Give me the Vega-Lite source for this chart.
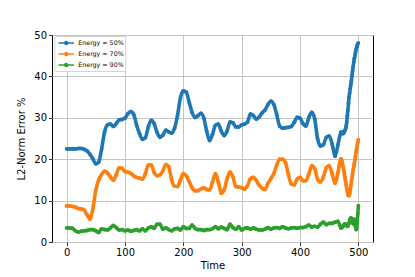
{
  "$schema": "https://vega.github.io/schema/vega-lite/v6.json",
  "width": 321,
  "height": 207,
  "autosize": {"type": "none"},
  "padding": {"left": 52, "top": 35, "right": 42, "bottom": 35},
  "background": "white",
  "config": {
    "font": "DejaVu Sans",
    "view": {"stroke": "black", "strokeWidth": 1},
    "axis": {
      "domain": false,
      "grid": true,
      "gridColor": "#c4c4c4",
      "gridWidth": 1,
      "tickColor": "black",
      "tickSize": 3.5,
      "tickWidth": 0.8,
      "labelFont": "DejaVu Sans",
      "labelFontSize": 10,
      "labelColor": "black",
      "labelPadding": 2,
      "titleFont": "DejaVu Sans",
      "titleFontSize": 10,
      "titleFontWeight": "normal",
      "titleColor": "black"
    }
  },
  "data": {
    "values": [
      {"t":0,"Energy = 50%":22.5,"Energy = 70%":8.7,"Energy = 90%":3.4},
      {"t":5,"Energy = 50%":22.5,"Energy = 70%":8.7,"Energy = 90%":3.4},
      {"t":10,"Energy = 50%":22.5,"Energy = 70%":8.6,"Energy = 90%":3.3},
      {"t":15,"Energy = 50%":22.5,"Energy = 70%":8.4,"Energy = 90%":2.7},
      {"t":20,"Energy = 50%":22.6,"Energy = 70%":8.1,"Energy = 90%":2.4},
      {"t":25,"Energy = 50%":22.6,"Energy = 70%":8.0,"Energy = 90%":2.6},
      {"t":30,"Energy = 50%":22.4,"Energy = 70%":7.7,"Energy = 90%":2.7},
      {"t":35,"Energy = 50%":22.0,"Energy = 70%":6.6,"Energy = 90%":2.8},
      {"t":40,"Energy = 50%":21.2,"Energy = 70%":5.5,"Energy = 90%":3.0},
      {"t":45,"Energy = 50%":20.1,"Energy = 70%":8.0,"Energy = 90%":3.0},
      {"t":50,"Energy = 50%":18.9,"Energy = 70%":12.5,"Energy = 90%":2.7},
      {"t":55,"Energy = 50%":19.3,"Energy = 70%":15.0,"Energy = 90%":2.3},
      {"t":60,"Energy = 50%":22.5,"Energy = 70%":16.3,"Energy = 90%":3.2},
      {"t":65,"Energy = 50%":26.5,"Energy = 70%":17.1,"Energy = 90%":3.0},
      {"t":70,"Energy = 50%":28.3,"Energy = 70%":16.7,"Energy = 90%":2.9},
      {"t":75,"Energy = 50%":28.5,"Energy = 70%":15.7,"Energy = 90%":3.4},
      {"t":80,"Energy = 50%":27.9,"Energy = 70%":14.9,"Energy = 90%":4.0},
      {"t":85,"Energy = 50%":28.6,"Energy = 70%":16.2,"Energy = 90%":3.5},
      {"t":90,"Energy = 50%":29.5,"Energy = 70%":17.9,"Energy = 90%":2.9},
      {"t":95,"Energy = 50%":29.6,"Energy = 70%":17.8,"Energy = 90%":3.0},
      {"t":100,"Energy = 50%":29.9,"Energy = 70%":17.0,"Energy = 90%":2.7},
      {"t":105,"Energy = 50%":31.0,"Energy = 70%":16.9,"Energy = 90%":2.9},
      {"t":110,"Energy = 50%":31.5,"Energy = 70%":16.6,"Energy = 90%":2.6},
      {"t":115,"Energy = 50%":30.8,"Energy = 70%":16.0,"Energy = 90%":2.8},
      {"t":120,"Energy = 50%":28.2,"Energy = 70%":15.6,"Energy = 90%":3.0},
      {"t":125,"Energy = 50%":26.2,"Energy = 70%":15.4,"Energy = 90%":2.7},
      {"t":130,"Energy = 50%":24.8,"Energy = 70%":15.2,"Energy = 90%":3.2},
      {"t":135,"Energy = 50%":25.2,"Energy = 70%":16.5,"Energy = 90%":2.7},
      {"t":140,"Energy = 50%":27.8,"Energy = 70%":18.6,"Energy = 90%":3.4},
      {"t":145,"Energy = 50%":29.4,"Energy = 70%":18.6,"Energy = 90%":3.7},
      {"t":150,"Energy = 50%":28.6,"Energy = 70%":16.8,"Energy = 90%":3.3},
      {"t":155,"Energy = 50%":26.5,"Energy = 70%":16.0,"Energy = 90%":4.3},
      {"t":160,"Energy = 50%":25.3,"Energy = 70%":16.2,"Energy = 90%":4.3},
      {"t":165,"Energy = 50%":25.8,"Energy = 70%":17.2,"Energy = 90%":3.1},
      {"t":170,"Energy = 50%":27.0,"Energy = 70%":18.7,"Energy = 90%":3.4},
      {"t":175,"Energy = 50%":26.6,"Energy = 70%":18.2,"Energy = 90%":3.0},
      {"t":180,"Energy = 50%":26.3,"Energy = 70%":15.0,"Energy = 90%":2.7},
      {"t":185,"Energy = 50%":27.5,"Energy = 70%":13.5,"Energy = 90%":3.2},
      {"t":190,"Energy = 50%":30.5,"Energy = 70%":13.4,"Energy = 90%":3.3},
      {"t":195,"Energy = 50%":34.8,"Energy = 70%":15.0,"Energy = 90%":2.9},
      {"t":200,"Energy = 50%":36.5,"Energy = 70%":16.5,"Energy = 90%":3.7},
      {"t":205,"Energy = 50%":36.2,"Energy = 70%":16.0,"Energy = 90%":3.3},
      {"t":210,"Energy = 50%":33.8,"Energy = 70%":14.6,"Energy = 90%":3.3},
      {"t":215,"Energy = 50%":31.3,"Energy = 70%":13.1,"Energy = 90%":4.1},
      {"t":220,"Energy = 50%":30.1,"Energy = 70%":12.4,"Energy = 90%":3.3},
      {"t":225,"Energy = 50%":30.5,"Energy = 70%":12.4,"Energy = 90%":3.0},
      {"t":230,"Energy = 50%":31.1,"Energy = 70%":12.8,"Energy = 90%":3.0},
      {"t":235,"Energy = 50%":30.0,"Energy = 70%":13.1,"Energy = 90%":2.8},
      {"t":240,"Energy = 50%":26.8,"Energy = 70%":12.7,"Energy = 90%":3.0},
      {"t":245,"Energy = 50%":24.5,"Energy = 70%":12.6,"Energy = 90%":3.0},
      {"t":250,"Energy = 50%":26.0,"Energy = 70%":14.5,"Energy = 90%":3.2},
      {"t":255,"Energy = 50%":28.2,"Energy = 70%":16.5,"Energy = 90%":3.7},
      {"t":260,"Energy = 50%":28.5,"Energy = 70%":14.5,"Energy = 90%":3.2},
      {"t":265,"Energy = 50%":26.8,"Energy = 70%":11.8,"Energy = 90%":3.6},
      {"t":270,"Energy = 50%":25.7,"Energy = 70%":12.6,"Energy = 90%":3.3},
      {"t":275,"Energy = 50%":26.8,"Energy = 70%":15.3,"Energy = 90%":3.0},
      {"t":280,"Energy = 50%":29.0,"Energy = 70%":16.9,"Energy = 90%":4.3},
      {"t":285,"Energy = 50%":28.8,"Energy = 70%":15.7,"Energy = 90%":3.5},
      {"t":290,"Energy = 50%":27.8,"Energy = 70%":13.4,"Energy = 90%":3.1},
      {"t":295,"Energy = 50%":27.8,"Energy = 70%":13.3,"Energy = 90%":3.7},
      {"t":300,"Energy = 50%":28.3,"Energy = 70%":13.1,"Energy = 90%":2.9},
      {"t":305,"Energy = 50%":28.5,"Energy = 70%":12.8,"Energy = 90%":3.3},
      {"t":310,"Energy = 50%":29.0,"Energy = 70%":13.6,"Energy = 90%":3.4},
      {"t":315,"Energy = 50%":30.9,"Energy = 70%":15.3,"Energy = 90%":3.1},
      {"t":320,"Energy = 50%":30.5,"Energy = 70%":15.6,"Energy = 90%":3.4},
      {"t":325,"Energy = 50%":29.7,"Energy = 70%":14.9,"Energy = 90%":3.1},
      {"t":330,"Energy = 50%":30.2,"Energy = 70%":13.7,"Energy = 90%":2.9},
      {"t":335,"Energy = 50%":31.2,"Energy = 70%":13.0,"Energy = 90%":2.9},
      {"t":340,"Energy = 50%":31.9,"Energy = 70%":12.7,"Energy = 90%":3.1},
      {"t":345,"Energy = 50%":33.2,"Energy = 70%":14.2,"Energy = 90%":3.5},
      {"t":350,"Energy = 50%":34.0,"Energy = 70%":15.3,"Energy = 90%":3.1},
      {"t":355,"Energy = 50%":33.2,"Energy = 70%":16.5,"Energy = 90%":3.4},
      {"t":360,"Energy = 50%":30.8,"Energy = 70%":18.6,"Energy = 90%":3.5},
      {"t":365,"Energy = 50%":28.0,"Energy = 70%":20.0,"Energy = 90%":3.3},
      {"t":370,"Energy = 50%":27.5,"Energy = 70%":20.0,"Energy = 90%":3.7},
      {"t":375,"Energy = 50%":27.6,"Energy = 70%":19.2,"Energy = 90%":3.4},
      {"t":380,"Energy = 50%":27.7,"Energy = 70%":16.3,"Energy = 90%":3.2},
      {"t":385,"Energy = 50%":27.9,"Energy = 70%":14.0,"Energy = 90%":3.4},
      {"t":390,"Energy = 50%":28.9,"Energy = 70%":13.8,"Energy = 90%":3.5},
      {"t":395,"Energy = 50%":30.1,"Energy = 70%":15.2,"Energy = 90%":3.3},
      {"t":400,"Energy = 50%":29.9,"Energy = 70%":15.6,"Energy = 90%":3.5},
      {"t":405,"Energy = 50%":28.6,"Energy = 70%":14.8,"Energy = 90%":3.5},
      {"t":410,"Energy = 50%":28.0,"Energy = 70%":14.8,"Energy = 90%":3.7},
      {"t":415,"Energy = 50%":30.0,"Energy = 70%":16.4,"Energy = 90%":4.1},
      {"t":420,"Energy = 50%":31.3,"Energy = 70%":18.4,"Energy = 90%":3.6},
      {"t":425,"Energy = 50%":29.8,"Energy = 70%":17.8,"Energy = 90%":3.8},
      {"t":430,"Energy = 50%":25.0,"Energy = 70%":15.2,"Energy = 90%":3.6},
      {"t":435,"Energy = 50%":23.2,"Energy = 70%":14.5,"Energy = 90%":4.3},
      {"t":440,"Energy = 50%":23.5,"Energy = 70%":15.7,"Energy = 90%":4.8},
      {"t":445,"Energy = 50%":25.3,"Energy = 70%":17.9,"Energy = 90%":4.2},
      {"t":450,"Energy = 50%":25.6,"Energy = 70%":18.4,"Energy = 90%":4.5},
      {"t":455,"Energy = 50%":23.7,"Energy = 70%":16.5,"Energy = 90%":4.5},
      {"t":460,"Energy = 50%":20.7,"Energy = 70%":14.2,"Energy = 90%":4.8},
      {"t":465,"Energy = 50%":23.5,"Energy = 70%":16.8,"Energy = 90%":5.0},
      {"t":470,"Energy = 50%":26.5,"Energy = 70%":20.1,"Energy = 90%":3.4},
      {"t":471,"Energy = 50%":26.6,"Energy = 70%":19.9,"Energy = 90%":3.4},
      {"t":472,"Energy = 50%":26.4,"Energy = 70%":19.4,"Energy = 90%":3.6},
      {"t":473,"Energy = 50%":26.2,"Energy = 70%":18.7,"Energy = 90%":3.7},
      {"t":474,"Energy = 50%":26.2,"Energy = 70%":18.0,"Energy = 90%":3.9},
      {"t":475,"Energy = 50%":26.4,"Energy = 70%":17.2,"Energy = 90%":4.1},
      {"t":476,"Energy = 50%":26.7,"Energy = 70%":16.4,"Energy = 90%":4.3},
      {"t":477,"Energy = 50%":27.0,"Energy = 70%":15.5,"Energy = 90%":4.4},
      {"t":478,"Energy = 50%":27.3,"Energy = 70%":14.7,"Energy = 90%":4.3},
      {"t":479,"Energy = 50%":28.0,"Energy = 70%":13.8,"Energy = 90%":4.1},
      {"t":480,"Energy = 50%":29.0,"Energy = 70%":13.0,"Energy = 90%":3.9},
      {"t":481,"Energy = 50%":30.4,"Energy = 70%":12.2,"Energy = 90%":3.8},
      {"t":482,"Energy = 50%":31.9,"Energy = 70%":11.5,"Energy = 90%":3.9},
      {"t":483,"Energy = 50%":33.5,"Energy = 70%":11.2,"Energy = 90%":4.2},
      {"t":484,"Energy = 50%":35.0,"Energy = 70%":11.3,"Energy = 90%":4.7},
      {"t":485,"Energy = 50%":36.0,"Energy = 70%":11.8,"Energy = 90%":5.2},
      {"t":486,"Energy = 50%":37.0,"Energy = 70%":12.7,"Energy = 90%":5.6},
      {"t":487,"Energy = 50%":38.0,"Energy = 70%":13.6,"Energy = 90%":5.8},
      {"t":488,"Energy = 50%":39.0,"Energy = 70%":14.6,"Energy = 90%":5.7},
      {"t":489,"Energy = 50%":40.2,"Energy = 70%":15.6,"Energy = 90%":5.2},
      {"t":490,"Energy = 50%":41.3,"Energy = 70%":16.5,"Energy = 90%":4.6},
      {"t":491,"Energy = 50%":42.4,"Energy = 70%":17.4,"Energy = 90%":4.4},
      {"t":492,"Energy = 50%":43.5,"Energy = 70%":18.2,"Energy = 90%":4.9},
      {"t":493,"Energy = 50%":44.3,"Energy = 70%":19.0,"Energy = 90%":5.5},
      {"t":494,"Energy = 50%":45.0,"Energy = 70%":19.8,"Energy = 90%":5.0},
      {"t":495,"Energy = 50%":45.8,"Energy = 70%":20.7,"Energy = 90%":3.8},
      {"t":496,"Energy = 50%":46.5,"Energy = 70%":21.7,"Energy = 90%":3.0},
      {"t":497,"Energy = 50%":47.0,"Energy = 70%":22.6,"Energy = 90%":3.2},
      {"t":498,"Energy = 50%":47.5,"Energy = 70%":23.4,"Energy = 90%":4.8},
      {"t":499,"Energy = 50%":47.9,"Energy = 70%":24.1,"Energy = 90%":6.8},
      {"t":500,"Energy = 50%":48.1,"Energy = 70%":24.7,"Energy = 90%":8.8}
    ]
  },
  "transform": [
    {"fold": ["Energy = 50%", "Energy = 70%", "Energy = 90%"], "as": ["series", "value"]}
  ],
  "encoding": {
    "x": {
      "field": "t", "type": "quantitative",
      "scale": {"domain": [-25, 525], "nice": false, "zero": false},
      "axis": {"values": [0, 100, 200, 300, 400, 500], "title": "Time", "titlePadding": 3}
    },
    "y": {
      "field": "value", "type": "quantitative",
      "scale": {"domain": [0, 50], "nice": false},
      "axis": {"values": [0, 10, 20, 30, 40, 50], "title": "L2-Norm Error %", "titlePadding": 7}
    },
    "color": {
      "field": "series", "type": "nominal",
      "scale": {"domain": ["Energy = 50%", "Energy = 70%", "Energy = 90%"], "range": ["#1f77b4", "#ff7f0e", "#2ca02c"]},
      "legend": {
        "title": null,
        "orient": "none",
        "legendX": 2.3,
        "legendY": 1,
        "padding": 1,
        "fillColor": "white",
        "strokeColor": "#d4d4d4",
        "cornerRadius": 2,
        "rowPadding": 0,
        "labelFont": "DejaVu Sans",
        "labelFontSize": 6.3,
        "labelColor": "black",
        "labelOffset": 11,
        "symbolType": "M-0.56,0H2.54M0.69,0A0.3,0.3,0,1,0,1.29,0A0.3,0.3,0,1,0,0.69,0",
        "symbolSize": 100,
        "symbolStrokeWidth": 1.5,
        "encode": {"symbols": {"update": {"fill": {"scale": "color", "field": "value"}, "stroke": {"scale": "color", "field": "value"}}}}
      }
    }
  },
  "layer": [
    {"mark": {"type": "line", "strokeWidth": 3.6, "interpolate": "monotone"}},
    {"mark": {"type": "point", "filled": true, "size": 14, "opacity": 1}}
  ]
}
